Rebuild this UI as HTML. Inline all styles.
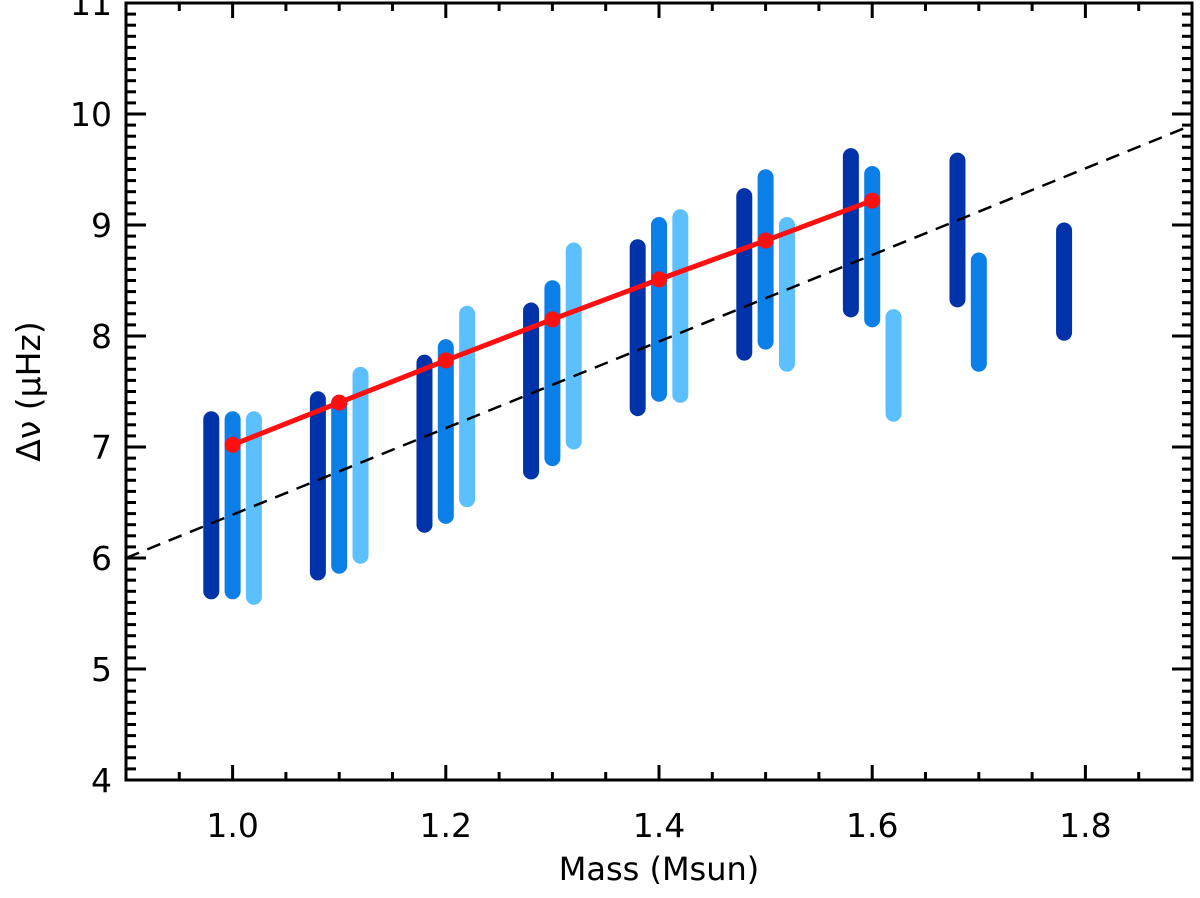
<!DOCTYPE html>
<html><head><meta charset="utf-8"><style>
body{margin:0;background:#fff;}
svg text{font-family:"DejaVu Sans","Liberation Sans",sans-serif;fill:#000;}
</style></head><body>
<svg id="chart" width="1200" height="893" xmlns="http://www.w3.org/2000/svg">
<g id="bars"></g>
<g id="lines"></g>
<g id="axes"></g>
</svg>
<script>
const barMass = [0.98,1.0,1.02, 1.08,1.1,1.12, 1.18,1.2,1.22, 1.28,1.3,1.32, 1.38,1.4,1.42, 1.48,1.5,1.52, 1.58,1.6,1.62, 1.68,1.7, 1.78];
const barLow  = [5.7,5.7,5.65, 5.87,5.93,6.02, 6.3,6.38,6.53, 6.78,6.9,7.05, 7.35,7.48,7.47, 7.85,7.95,7.75, 8.24,8.15,7.3, 8.33,7.75, 8.03];
const barHigh = [7.25,7.25,7.25, 7.43,7.4,7.65, 7.76,7.9,8.2, 8.23,8.43,8.77, 8.8,9.0,9.07, 9.26,9.43,9.0, 9.62,9.46,8.17, 9.58,8.68, 8.95];
const barShade = [0,1,2, 0,1,2, 0,1,2, 0,1,2, 0,1,2, 0,1,2, 0,1,2, 0,1, 0];
const redMass = [1.0,1.1,1.2,1.3,1.4,1.5,1.6];
const redDnu  = [7.02,7.4,7.78,8.15,8.51,8.86,9.22];
const fitMass = [0.9,1.9];
const fitDnu  = [6.0,9.9];
const xTicks = ["1.0","1.2","1.4","1.6","1.8"];
const yTicks = ["4","5","6","7","8","9","10","11"];

const X0=126,X1=1192,Y0=780,Y1=3;
const xmin=0.9,xmax=1.9,ymin=4,ymax=11;
const sx=v=>X0+(v-xmin)/(xmax-xmin)*(X1-X0);
const sy=v=>Y0-(v-ymin)/(ymax-ymin)*(Y0-Y1);
const NS="http://www.w3.org/2000/svg";
function mk(tag,attrs,parent){const e=document.createElementNS(NS,tag);for(const k in attrs)e.setAttribute(k,attrs[k]);parent.appendChild(e);return e;}
const colors=["#0033aa","#0a7fe8","#5cc0ff"];
const gb=document.getElementById('bars');
barMass.forEach((m,i)=>{
 const l=mk('line',{x1:sx(m),x2:sx(m),y1:sy(barLow[i]),y2:sy(barHigh[i]),stroke:colors[barShade[i]],'stroke-width':16,'stroke-linecap':'round'},gb);
 
 
});
const gl=document.getElementById('lines');
const fit=mk('line',{x1:sx(fitMass[0]),y1:sy(fitDnu[0]),x2:sx(fitMass[1]),y2:sy(fitDnu[1]),stroke:'#000','stroke-width':2.5,'stroke-dasharray':'14,9'},gl);


const pl=mk('polyline',{points:redMass.map((m,i)=>sx(m)+','+sy(redDnu[i])).join(' '),fill:'none',stroke:'#ff0f0f','stroke-width':5},gl);


redMass.forEach((m,i)=>{
 const c=mk('circle',{cx:sx(m),cy:sy(redDnu[i]),r:8,fill:'#ff0f0f'},gl);
 
 
});
const ga=document.getElementById('axes');
const fr=mk('rect',{x:X0,y:Y1,width:X1-X0,height:Y0-Y1,fill:'none',stroke:'#000','stroke-width':3},ga);


for(let k=0;k<=20;k++){const v=0.9+k*0.05;const x=sx(v);const maj=(k%4==2);const L=maj?15:8;
 mk('line',{x1:x,x2:x,y1:Y0,y2:Y0-L,stroke:'#000','stroke-width':3},ga);
 mk('line',{x1:x,x2:x,y1:Y1,y2:Y1+L,stroke:'#000','stroke-width':3},ga);}
for(let k=0;k<=70;k++){const v=4+k*0.1;const y=sy(v);const maj=(k%10==0);const L=maj?20:10;
 mk('line',{x1:X0,x2:X0+L,y1:y,y2:y,stroke:'#000','stroke-width':3},ga);
 mk('line',{x1:X1,x2:X1-L,y1:y,y2:y,stroke:'#000','stroke-width':3},ga);}
xTicks.forEach(t=>{const e=mk('text',{x:sx(parseFloat(t)),y:Y0+57,'font-size':33,'text-anchor':'middle'},ga);e.textContent=t;
 });
yTicks.forEach(t=>{const e=mk('text',{x:X0-14,y:sy(parseFloat(t))+12,'font-size':33,'text-anchor':'end'},ga);e.textContent=t;
 });
const xt=mk('text',{x:(X0+X1)/2,y:880,'font-size':32,'text-anchor':'middle'},ga);xt.textContent='Mass (Msun)';

const yt=mk('text',{x:0,y:0,'font-size':33,'text-anchor':'middle',transform:'translate(40,'+((Y0+Y1)/2)+') rotate(-90)'},ga);
yt.textContent='Δν  (μHz)';

</script>
</body></html>
